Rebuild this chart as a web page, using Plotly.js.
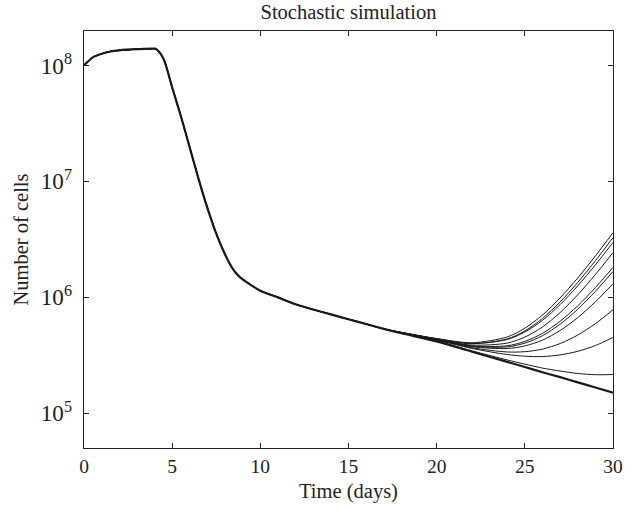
<!DOCTYPE html>
<html>
<head>
<meta charset="utf-8">
<script src="https://cdn.plot.ly/plotly-3.0.1.min.js"></script>
<style>html,body{margin:0;padding:0;background:#fff;}#chart{width:635px;height:509px;}</style>
</head>
<body>
<div id="chart"></div>
<script>
// Shared early part of every run (time in days, number of cells)
var headDays  = [0, 0.5, 1, 1.5, 2, 3, 4, 4.1, 4.5, 5, 5.5, 6, 6.5, 7, 7.5, 8, 8.25, 8.5, 8.75, 9, 9.5, 10, 11, 12, 13, 14, 15, 16, 17];
var headCells = [1.00e8, 1.175e8, 1.26e8, 1.32e8, 1.35e8, 1.38e8, 1.396e8, 1.38e8, 1.148e8, 6.46e7, 3.63e7, 1.95e7, 1.047e7, 5.89e6, 3.55e6, 2.34e6, 1.97e6, 1.71e6, 1.54e6, 1.43e6, 1.27e6, 1.14e6, 1.0e6, 8.71e5, 7.85e5, 7.13e5, 6.47e5, 5.89e5, 5.35e5];

// Late part, where the runs separate
var tailDays = [18, 20, 22, 24, 25, 26, 27, 28, 29, 30];
var baseTail = [4.90e5, 4.17e5, 3.40e5, 2.78e5, 2.51e5, 2.26e5, 2.05e5, 1.85e5, 1.67e5, 1.51e5];
var run1  = [4.99e5, 4.415e5, 4.06e5, 4.555e5, 5.42e5, 7.035e5, 9.89e5, 1.470e6, 2.276e6, 3.611e6];
var run2  = [4.98e5, 4.39e5, 3.99e5, 4.38e5, 5.13e5, 6.57e5, 9.12e5, 1.344e6, 2.069e6, 3.271e6];
var run3  = [4.985e5, 4.394e5, 3.989e5, 4.331e5, 5.023e5, 6.335e5, 8.66e5, 1.257e6, 1.906e6, 2.971e6];
var run4  = [4.97e5, 4.351e5, 3.877e5, 4.034e5, 4.541e5, 5.555e5, 7.394e5, 1.052e6, 1.573e6, 2.431e6];
var run5  = [4.966e5, 4.336e5, 3.817e5, 3.827e5, 4.17e5, 4.891e5, 6.22e5, 8.458e5, 1.214e6, 1.811e6];
var run6  = [4.96e5, 4.322e5, 3.782e5, 3.739e5, 4.03e5, 4.669e5, 5.868e5, 7.901e5, 1.126e6, 1.671e6];
var run7  = [4.961e5, 4.316e5, 3.75e5, 3.62e5, 3.812e5, 4.276e5, 5.173e5, 6.686e5, 9.16e5, 1.311e6];
var run8  = [4.958e5, 4.296e5, 3.675e5, 3.382e5, 3.40e5, 3.576e5, 3.997e5, 4.73e5, 5.929e5, 7.81e5];
var run9  = [4.963e5, 4.289e5, 3.628e5, 3.214e5, 3.109e5, 3.086e5, 3.191e5, 3.424e5, 3.843e5, 4.51e5];
var run10 = [4.918e5, 4.203e5, 3.459e5, 2.888e5, 2.656e5, 2.456e5, 2.315e5, 2.207e5, 2.152e5, 2.16e5];

var runs = [run1, run2, run3, run4, run5, run6, run7, run8, run9, run10];
var allDays = headDays.concat(tailDays);

var traces = runs.map(function (r) {
  return {
    x: allDays, y: headCells.concat(r), mode: 'lines', type: 'scatter',
    line: {color: '#1a1a1a', width: 1, shape: 'spline', smoothing: 0.8},
    hoverinfo: 'skip', showlegend: false
  };
});
traces.push({
  x: allDays, y: headCells.concat(baseTail), mode: 'lines', type: 'scatter',
  line: {color: '#1a1a1a', width: 2.2, shape: 'spline', smoothing: 0.8},
  hoverinfo: 'skip', showlegend: false
});

var fontFam = '"Liberation Serif", "Times New Roman", serif';
var layout = {
  width: 635, height: 509,
  margin: {l: 84, r: 22, t: 31, b: 61},
  paper_bgcolor: '#fff', plot_bgcolor: '#fff',
  font: {family: fontFam, size: 19, color: '#222'},
  title: {text: 'Stochastic simulation', x: 0.5, xref: 'paper', xanchor: 'center',
          y: 0.977, yref: 'container', yanchor: 'middle',
          font: {family: fontFam, size: 20.5, color: '#222'}},
  xaxis: {
    range: [0, 30], tickvals: [0, 5, 10, 15, 20, 25, 30],
    ticks: 'inside', ticklen: 5, tickwidth: 1.2, tickcolor: '#222',
    showline: true, linecolor: '#222', linewidth: 1.3, mirror: 'ticks',
    showgrid: false, zeroline: false,
    title: {text: 'Time (days)', standoff: 8, font: {family: fontFam, size: 20.5, color: '#222'}},
    tickfont: {family: fontFam, size: 19.5, color: '#222'}
  },
  yaxis: {
    type: 'log', range: [4.701, 8.297], dtick: 1, exponentformat: 'power',
    ticks: 'inside', ticklen: 5, tickwidth: 1.2, tickcolor: '#222',
    showline: true, linecolor: '#222', linewidth: 1.3, mirror: 'ticks',
    showgrid: false, zeroline: false, ticklabelstandoff: 7,
    title: {text: 'Number of cells', standoff: 6, font: {family: fontFam, size: 20.5, color: '#222'}},
    tickfont: {family: fontFam, size: 18.5, color: '#222'}
  }
};

Plotly.newPlot('chart', traces, layout, {staticPlot: true, displayModeBar: false});
</script>
</body>
</html>
